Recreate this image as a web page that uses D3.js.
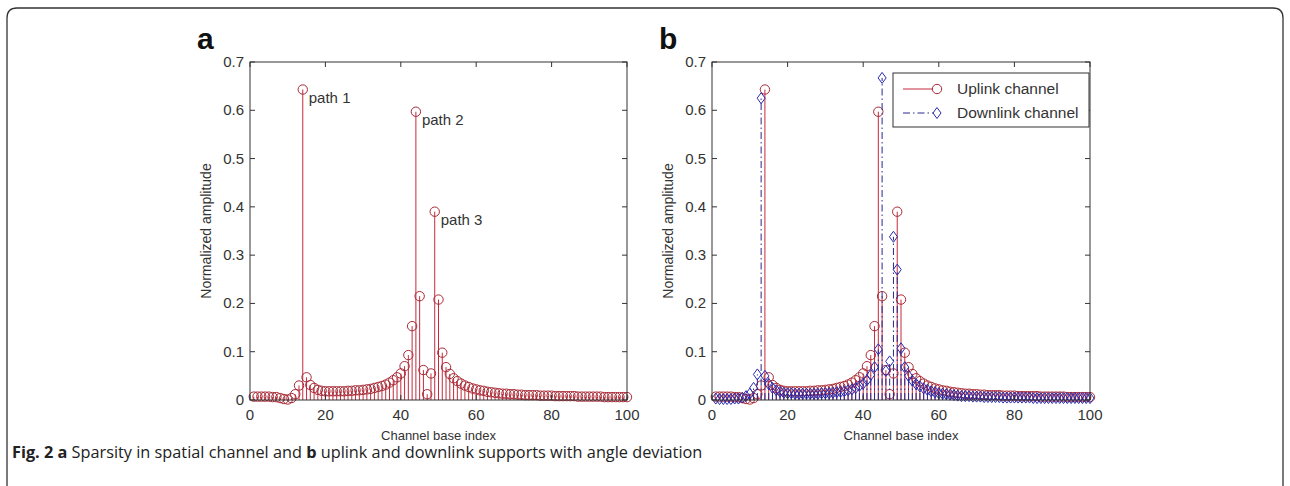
<!DOCTYPE html>
<html lang="en">
<head>
<meta charset="UTF-8">
<title>Sparsity in spatial channel</title>
<script src="https://d3js.org/d3.v7.min.js"></script>
<style>
  body { margin: 0; background: #fff; }
  svg { display: block; }
  .tick-label { font-family: "Liberation Sans", Arial, sans-serif; font-size: 15px; fill: #333; }
  .axis-title { font-family: "Liberation Sans", Arial, sans-serif; font-size: 13px; fill: #333; }
  .panel-letter { font-family: "Liberation Sans", Arial, sans-serif; font-size: 30px; font-weight: bold; fill: #111; }
  .caption { font-family: "Open Sans", sans-serif; font-size: 16.3px; fill: #222; }
</style>
</head>
<body>
<svg width="1290" height="486"></svg>
<script>
// channel base index 1..100
const uplink = [
  0.007, 0.007, 0.007, 0.007, 0.007, 0.006, 0.006, 0.004, 0.002, 0.001,
  0.004, 0.012, 0.030, 0.643, 0.047, 0.031, 0.025, 0.021, 0.019, 0.018,
  0.018, 0.018, 0.018, 0.018, 0.018, 0.019, 0.019, 0.020, 0.020, 0.021,
  0.022, 0.023, 0.025, 0.027, 0.029, 0.032, 0.036, 0.041, 0.047, 0.055,
  0.070, 0.093, 0.153, 0.597, 0.215, 0.062, 0.012, 0.055, 0.390, 0.208,
  0.098, 0.068, 0.054, 0.045, 0.039, 0.034, 0.030, 0.027, 0.024, 0.022,
  0.020, 0.019, 0.017, 0.016, 0.015, 0.014, 0.013, 0.013, 0.012, 0.012,
  0.011, 0.011, 0.010, 0.010, 0.010, 0.010, 0.009, 0.009, 0.009, 0.009,
  0.008, 0.008, 0.008, 0.008, 0.008, 0.008, 0.007, 0.007, 0.007, 0.007,
  0.007, 0.007, 0.007, 0.006, 0.006, 0.006, 0.006, 0.006, 0.006, 0.006
];
const downlink = [
  0.003, 0.002, 0.002, 0.002, 0.002, 0.003, 0.003, 0.005, 0.008, 0.013,
  0.025, 0.053, 0.625, 0.050, 0.033, 0.025, 0.020, 0.017, 0.015, 0.014,
  0.014, 0.013, 0.013, 0.013, 0.013, 0.013, 0.013, 0.013, 0.014, 0.014,
  0.014, 0.015, 0.016, 0.017, 0.018, 0.020, 0.022, 0.025, 0.029, 0.034,
  0.041, 0.052, 0.068, 0.105, 0.667, 0.060, 0.080, 0.338, 0.270, 0.107,
  0.068, 0.050, 0.040, 0.033, 0.028, 0.024, 0.021, 0.018, 0.016, 0.014,
  0.013, 0.012, 0.011, 0.010, 0.009, 0.008, 0.008, 0.008, 0.007, 0.007,
  0.007, 0.006, 0.006, 0.006, 0.006, 0.006, 0.005, 0.005, 0.005, 0.005,
  0.005, 0.005, 0.005, 0.005, 0.004, 0.004, 0.004, 0.004, 0.004, 0.004,
  0.004, 0.004, 0.004, 0.004, 0.004, 0.004, 0.004, 0.004, 0.004, 0.004
];
const xTicks = [0, 20, 40, 60, 80, 100];
const yTicks = [0, 0.1, 0.2, 0.3, 0.4, 0.5, 0.6, 0.7];
const pathLabels = [
  { idx: 14, text: "path 1" },
  { idx: 44, text: "path 2" },
  { idx: 49, text: "path 3" }
];
const legendItems = ["Uplink channel", "Downlink channel"];

const svg = d3.select("svg");
const upColor = "#c42a3c", circleColor = "#a82a36", downColor = "#28288f", diamondColor = "#2a2ab0";

// outer frame of the figure
svg.append("path")
  .attr("d", "M7,500 L7,18 Q7,8 17,8 L1273,8 Q1283,8 1283,18 L1283,500")
  .attr("fill", "none").attr("stroke", "#333").attr("stroke-width", 1.3);

function panel(left, right, letter, series) {
  const top = 62, bottom = 400;
  const x = d3.scaleLinear().domain([0, 100]).range([left, right]);
  const y = d3.scaleLinear().domain([0, 0.7]).range([bottom, top]);
  const g = svg.append("g");

  series.forEach(s => {
    const pts = s.values.map((v, i) => ({ i: i + 1, v }));
    g.selectAll(null).data(pts).enter().append("line")
      .attr("x1", d => x(d.i)).attr("x2", d => x(d.i))
      .attr("y1", y(0)).attr("y2", d => y(d.v))
      .attr("stroke", s.color).attr("stroke-width", 1)
      .attr("stroke-dasharray", s.dash);
    if (s.marker === "circle") {
      g.selectAll(null).data(pts).enter().append("circle")
        .attr("cx", d => x(d.i)).attr("cy", d => y(d.v)).attr("r", 4.7)
        .attr("fill", "none").attr("stroke", s.markerColor).attr("stroke-width", 1);
    } else {
      g.selectAll(null).data(pts).enter().append("path")
        .attr("d", d => `M${x(d.i)},${y(d.v) - 5.5} L${x(d.i) + 4},${y(d.v)} L${x(d.i)},${y(d.v) + 5.5} L${x(d.i) - 4},${y(d.v)} Z`)
        .attr("fill", "none").attr("stroke", s.markerColor).attr("stroke-width", 1);
    }
  });

  // box
  g.append("rect").attr("x", left).attr("y", top)
    .attr("width", right - left).attr("height", bottom - top)
    .attr("fill", "none").attr("stroke", "#333").attr("stroke-width", 1);

  // ticks inside on all sides
  const tl = 5;
  xTicks.forEach(t => {
    g.append("line").attr("x1", x(t)).attr("x2", x(t)).attr("y1", bottom).attr("y2", bottom - tl).attr("stroke", "#333");
    g.append("line").attr("x1", x(t)).attr("x2", x(t)).attr("y1", top).attr("y2", top + tl).attr("stroke", "#333");
    g.append("text").attr("class", "tick-label").attr("x", x(t)).attr("y", bottom + 20)
      .attr("text-anchor", "middle").text(t);
  });
  yTicks.forEach(t => {
    g.append("line").attr("x1", left).attr("x2", left + tl).attr("y1", y(t)).attr("y2", y(t)).attr("stroke", "#333");
    g.append("line").attr("x1", right).attr("x2", right - tl).attr("y1", y(t)).attr("y2", y(t)).attr("stroke", "#333");
    g.append("text").attr("class", "tick-label").attr("x", left - 6).attr("y", y(t) + 5)
      .attr("text-anchor", "end").text(t === 0 ? "0" : d3.format(".1f")(t));
  });

  g.append("text").attr("class", "axis-title")
    .attr("x", (left + right) / 2).attr("y", bottom + 40)
    .attr("text-anchor", "middle").text("Channel base index");
  g.append("text").attr("class", "axis-title").style("font-size", "14px")
    .attr("transform", `translate(${left - 39},${(top + bottom) / 2}) rotate(-90)`)
    .attr("text-anchor", "middle").text("Normalized amplitude");

  g.append("text").attr("class", "panel-letter")
    .attr("x", left - 53).attr("y", 49).text(letter);

  return { g, x, y };
}

const a = panel(250, 627, "a", [
  { values: uplink, color: upColor, markerColor: circleColor, marker: "circle", dash: null }
]);
pathLabels.forEach(p => {
  a.g.append("text").attr("class", "tick-label")
    .attr("x", a.x(p.idx) + 6).attr("y", a.y(uplink[p.idx - 1]) + 13)
    .text(p.text);
});

const b = panel(712, 1090, "b", [
  { values: uplink, color: upColor, markerColor: circleColor, marker: "circle", dash: null },
  { values: downlink, color: downColor, markerColor: diamondColor, marker: "diamond", dash: "7,3,1.5,3" }
]);

// legend
const lg = b.g.append("g");
lg.append("rect").attr("x", 893).attr("y", 73).attr("width", 196).attr("height", 54)
  .attr("fill", "#fff").attr("stroke", "#333").attr("stroke-width", 1);
legendItems.forEach((name, k) => {
  const ly = 89 + k * 24;
  const col = k === 0 ? upColor : downColor;
  lg.append("line").attr("x1", 903).attr("x2", 937).attr("y1", ly).attr("y2", ly)
    .attr("stroke", col).attr("stroke-dasharray", k === 0 ? null : "7,3,1.5,3");
  if (k === 0) {
    lg.append("circle").attr("cx", 937).attr("cy", ly).attr("r", 4.7)
      .attr("fill", "#fff").attr("stroke", circleColor);
  } else {
    lg.append("path").attr("d", `M937,${ly - 5.5} L941,${ly} L937,${ly + 5.5} L933,${ly} Z`)
      .attr("fill", "#fff").attr("stroke", diamondColor);
  }
  lg.append("text").attr("class", "tick-label").style("font-size", "15.5px")
    .attr("x", 957).attr("y", ly + 5).text(name);
});

// caption
const cap = svg.append("text").attr("class", "caption").attr("x", 12).attr("y", 458);
cap.append("tspan").attr("font-weight", "bold").text("Fig. 2 a");
cap.append("tspan").text(" Sparsity in spatial channel and ");
cap.append("tspan").attr("font-weight", "bold").text("b");
cap.append("tspan").text(" uplink and downlink supports with angle deviation");
</script>
</body>
</html>
